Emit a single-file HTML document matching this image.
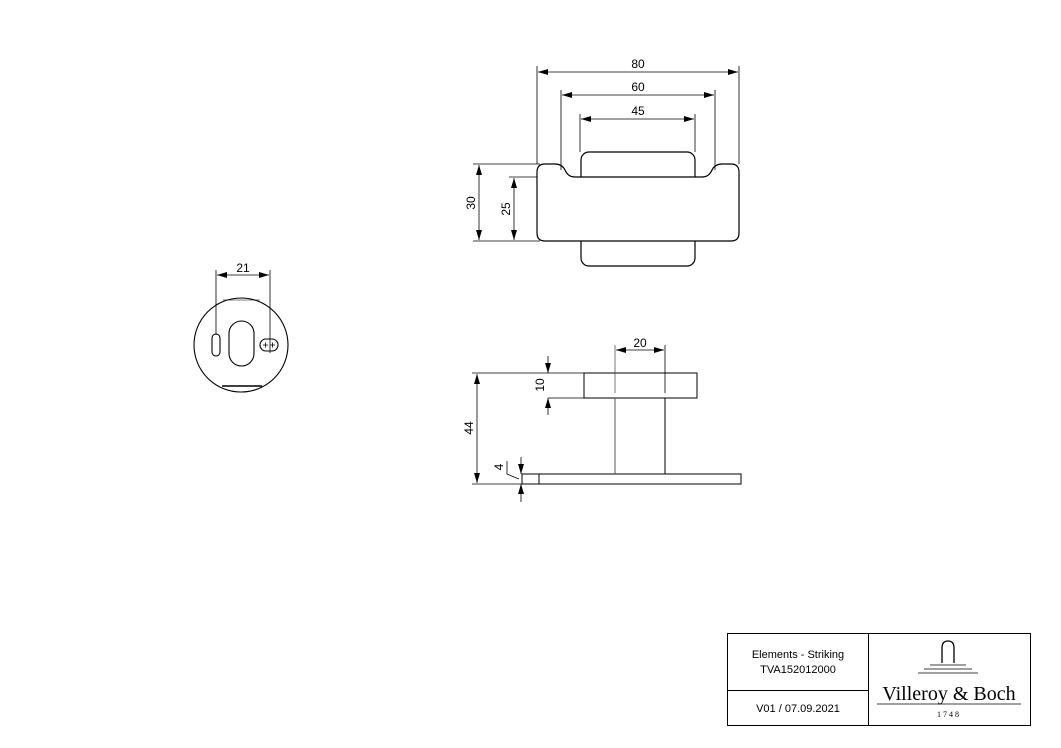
<!DOCTYPE html>
<html><head><style>body{margin:0;background:#fff}svg{display:block}text{font-family:"Liberation Sans",sans-serif;fill:#000}</style></head><body>
<svg width="1061" height="748" viewBox="0 0 1061 748" xmlns="http://www.w3.org/2000/svg">
<defs><marker id="a" viewBox="0 0 10 6" refX="10" refY="3" markerWidth="10" markerHeight="6" orient="auto-start-reverse" markerUnits="userSpaceOnUse"><path d="M0,0L10,3L0,6z" fill="#000"/></marker></defs>
<g fill="none" stroke="#000" stroke-width="1.2">
<rect x="581" y="152" width="114" height="40" rx="8"/>
<rect x="581" y="226" width="114" height="40" rx="8"/>
<path d="M545,164 H555 Q562,164 565,170 Q568,177 575,177 H702 Q709,177 712,170 Q715,164 722,164 H731 Q739,164 739,172 V233 Q739,241 731,241 H545 Q537,241 537,233 V172 Q537,164 545,164Z" fill="#fff"/>
</g>
<g fill="none" stroke="#000" stroke-width="0.8">
<line x1="537" y1="66" x2="537" y2="164"/><line x1="739" y1="66" x2="739" y2="164"/>
<line x1="538" y1="72" x2="738" y2="72" marker-start="url(#a)" marker-end="url(#a)"/>
<line x1="561" y1="90" x2="561" y2="170"/><line x1="715" y1="90" x2="715" y2="170"/>
<line x1="562" y1="95" x2="714" y2="95" marker-start="url(#a)" marker-end="url(#a)"/>
<line x1="580" y1="114" x2="580" y2="152"/><line x1="695" y1="114" x2="695" y2="152"/>
<line x1="581" y1="119" x2="694" y2="119" marker-start="url(#a)" marker-end="url(#a)"/>
<line x1="473" y1="164" x2="540" y2="164"/><line x1="473" y1="241" x2="540" y2="241"/>
<line x1="479" y1="165" x2="479" y2="240" marker-start="url(#a)" marker-end="url(#a)"/>
<line x1="509" y1="177" x2="537" y2="177"/>
<line x1="514" y1="178" x2="514" y2="240" marker-start="url(#a)" marker-end="url(#a)"/>
</g>
<text x="638" y="68" font-size="12" text-anchor="middle">80</text>
<text x="638" y="91" font-size="12" text-anchor="middle">60</text>
<text x="638" y="115" font-size="12" text-anchor="middle">45</text>
<text transform="translate(475,203) rotate(-90)" font-size="12" text-anchor="middle">30</text>
<text transform="translate(510,209) rotate(-90)" font-size="12" text-anchor="middle">25</text>
<g fill="none" stroke="#000" stroke-width="1">
<rect x="584" y="373" width="113" height="25"/>
<rect x="522" y="474" width="219" height="10"/>
<line x1="539" y1="474" x2="539" y2="484"/>
<line x1="665" y1="398" x2="665" y2="474"/>
<line x1="615" y1="398" x2="615" y2="474" stroke="#555"/>
</g>
<g fill="none" stroke="#000" stroke-width="0.8">
<line x1="615" y1="345" x2="615" y2="393" stroke="#555"/><line x1="665" y1="345" x2="665" y2="393"/>
<line x1="616" y1="350" x2="664" y2="350" marker-start="url(#a)" marker-end="url(#a)"/>
<line x1="472" y1="373" x2="584" y2="373"/><line x1="472" y1="484" x2="566" y2="484"/>
<line x1="477" y1="374" x2="477" y2="483" marker-start="url(#a)" marker-end="url(#a)"/>
<line x1="548" y1="398" x2="584" y2="398"/>
<line x1="548" y1="356" x2="548" y2="373" marker-end="url(#a)"/>
<line x1="548" y1="415" x2="548" y2="398" marker-end="url(#a)"/>
<line x1="521" y1="457" x2="521" y2="474" marker-end="url(#a)"/>
<line x1="521" y1="502" x2="521" y2="484" marker-end="url(#a)"/>
<path d="M507,461 V474 L519,479"/>
</g>
<text x="640" y="347" font-size="12" text-anchor="middle">20</text>
<text transform="translate(544,385) rotate(-90)" font-size="12" text-anchor="middle">10</text>
<text transform="translate(473,428) rotate(-90)" font-size="12" text-anchor="middle">44</text>
<text transform="translate(503,467) rotate(-90)" font-size="12" text-anchor="middle">4</text>
<g fill="none" stroke="#000" stroke-width="1.1">
<circle cx="241" cy="345" r="47"/>
<line x1="223" y1="300" x2="260" y2="300" stroke-width="0.6"/>
<line x1="222" y1="386" x2="262" y2="386" stroke-width="1.5"/>
<rect x="212" y="334" width="8" height="22" rx="4"/>
<rect x="229" y="321" width="25" height="45" rx="12.5"/>
<rect x="260" y="339" width="18" height="12" rx="6"/>
</g>
<g stroke="#000" stroke-width="0.8" fill="none">
<path d="M263,345h5M265.5,342.5v5M270,345h5M272.5,342.5v5"/>
<line x1="216" y1="270" x2="216" y2="335"/><line x1="270" y1="270" x2="270" y2="353"/>
<line x1="217" y1="275" x2="269" y2="275" marker-start="url(#a)" marker-end="url(#a)"/>
</g>
<text x="243" y="272" font-size="12" text-anchor="middle">21</text>
<g fill="none" stroke="#000" stroke-width="1">
<rect x="727.5" y="633.5" width="303" height="92"/>
<line x1="868.5" y1="633" x2="868.5" y2="726"/>
<line x1="727" y1="690.5" x2="868" y2="690.5"/>
<path d="M942,663 V648 Q942,641 948,641 Q954,641 954,648 V663" stroke-width="1.3"/>
<path d="M930,665 H966 M924,669 H972 M918,673 H978" stroke-width="0.8"/>
<line x1="877" y1="704" x2="1021" y2="704" stroke-width="0.8"/>
</g>
<text x="798" y="658" font-size="11" text-anchor="middle">Elements - Striking</text>
<text x="798" y="673" font-size="11" text-anchor="middle">TVA152012000</text>
<text x="798" y="712" font-size="11" text-anchor="middle">V01 / 07.09.2021</text>
<text x="949" y="700" font-size="20" text-anchor="middle" style="font-family:'Liberation Serif',serif">Villeroy &amp; Boch</text>
<text x="949" y="717" font-size="8" text-anchor="middle" letter-spacing="2" style="font-family:'Liberation Serif',serif">1748</text>
</svg>
</body></html>
